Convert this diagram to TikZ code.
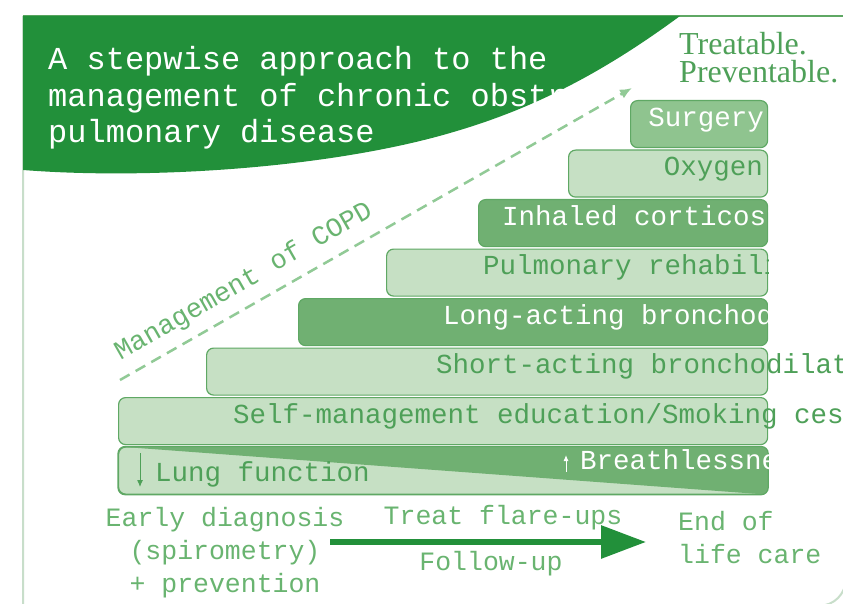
\documentclass[tikz,border=0pt]{standalone}
\usepackage{fontspec}
\setmonofont{Liberation Mono}
\newfontfamily\taglinefont{Liberation Serif}
\usepackage{tikz}
\usetikzlibrary{arrows.meta,positioning}

\definecolor{hdrgreen}{RGB}{34,144,58}
\definecolor{barlight}{RGB}{198,224,196}
\definecolor{barmid}{RGB}{143,196,143}
\definecolor{bardark}{RGB}{112,176,114}
\definecolor{barline}{RGB}{95,168,100}
\definecolor{txtgreen}{RGB}{78,160,88}
\definecolor{lowgreen}{RGB}{105,180,112}
\definecolor{dashgreen}{RGB}{145,202,150}
\definecolor{framegrey}{RGB}{200,222,202}

\tikzset{
  stepbar/.style={anchor=north west,rounded corners=7pt,draw=barline,line width=1.2pt,minimum height=47pt,inner sep=0pt},
  bartext/.style={font=\ttfamily\fontsize{27.5}{30}\selectfont,inner sep=0pt},
  titletext/.style={font=\ttfamily\fontsize{32}{36}\selectfont,text=white,inner sep=0pt,anchor=base west},
  tagline/.style={font=\taglinefont\fontsize{32}{36}\selectfont,text=txtgreen,inner sep=0pt,anchor=base west},
  lowtext/.style={font=\ttfamily\fontsize{26.5}{33}\selectfont,text=lowgreen,inner sep=0pt}
}

\begin{document}
\begin{tikzpicture}[x=1pt,y=-1pt]
	\useasboundingbox (0,0) rectangle (843,604);
	\clip (0,0) rectangle (843,604);
	\fill[white] (0,0) rectangle (843,604);

	% frame and header
	\draw[framegrey,line width=2pt] (23,16) -- (23,606) -- (818,606) .. controls (834,606) and (846,594) .. (846,578);
	\draw[barline,line width=1.5pt] (23,16) -- (843,16);
	\begin{scope}
		\clip (23,16) -- (680,16) .. controls (600,75) and (530,110) .. (450,133) .. controls (330,168) and (150,180) .. (23,170) -- cycle;
		\fill[hdrgreen] (0,0) rectangle (843,300);
		\node[titletext] (title1) at (48,70) {A stepwise approach to the};
		\node[titletext] (title2) at (48,107) {management of chronic obstructive};
		\node[titletext] (title3) at (48,143) {pulmonary disease};
	\end{scope}
	\node[tagline] (treat) at (679,55) {Treatable.};
	\node[tagline] (prevent) at (679,83) {Preventable.};

	% the steps
	\node[stepbar,fill=barmid,minimum width=137pt] (surgery) at (630,100) {};
	\node[stepbar,fill=barlight,minimum width=199pt] (oxygen) at (568,149.5) {};
	\node[stepbar,fill=bardark,minimum width=289pt] (inhaled) at (478,199) {};
	\node[stepbar,fill=barlight,minimum width=381pt] (pulmo) at (386,248.5) {};
	\node[stepbar,fill=bardark,minimum width=469pt] (longact) at (298,298) {};
	\node[stepbar,fill=barlight,minimum width=561pt] (shortact) at (206,347.5) {};
	\node[stepbar,fill=barlight,minimum width=649pt] (selfmgmt) at (118,397) {};
	\node[stepbar,fill=barlight,minimum width=649pt] (lung) at (118,446.5) {};
	\begin{scope}
		\clip[rounded corners=7pt] (lung.north west) rectangle (lung.south east);
		\fill[bardark] (lung.north west) -- (lung.north east) -- (lung.south east) -- cycle;
	\end{scope}
	\draw[barline,line width=1.2pt,rounded corners=7pt] (lung.north west) rectangle (lung.south east);

	\node[bartext,text=white,anchor=mid east] (surgerytxt) at ([xshift=-4pt]surgery.east) {Surgery};
	\node[bartext,text=txtgreen,anchor=mid east] (oxygentxt) at ([xshift=-5pt]oxygen.east) {Oxygen};
	\begin{scope}
		\clip[rounded corners=7pt] (inhaled.north west) rectangle (inhaled.south east);
		\node[bartext,text=white,anchor=mid west] (inhaledtxt) at ([xshift=24pt]inhaled.west) {Inhaled corticosteroids};
	\end{scope}
	\begin{scope}
		\clip[rounded corners=7pt] (pulmo.north west) rectangle (pulmo.south east);
		\node[bartext,text=txtgreen,anchor=mid west] (pulmotxt) at ([xshift=97pt]pulmo.west) {Pulmonary rehabilitation};
	\end{scope}
	\begin{scope}
		\clip[rounded corners=7pt] (longact.north west) rectangle (longact.south east);
		\node[bartext,text=white,anchor=mid west] (longacttxt) at ([xshift=145pt]longact.west) {Long-acting bronchodilators};
	\end{scope}
	\node[bartext,text=txtgreen,anchor=mid west] (shortacttxt) at ([xshift=230pt]shortact.west) {Short-acting bronchodilators};
	\node[bartext,text=txtgreen,anchor=mid west] (selfmgmttxt) at ([xshift=115pt]selfmgmt.west) {Self-management education/Smoking cessation};

	\node[bartext,text=txtgreen,anchor=mid west] (lungtxt) at ([xshift=37pt,yshift=-9pt]lung.west) {Lung function};
	\coordinate (lungtop) at (140,453);
	\coordinate (lungbot) at (140,487);
	\draw[txtgreen,line width=1pt,-{Latex[length=7pt,width=6pt]}] (lungtop) -- (lungbot);
	\begin{scope}
		\clip[rounded corners=7pt] (lung.north west) rectangle (lung.south east);
		\node[bartext,text=white,anchor=mid west] (breathtxt) at (580,467) {Breathlessness};
	\end{scope}
	\coordinate (breathbot) at (566,472);
	\coordinate (breathtop) at (566,455);
	\draw[white,line width=1pt,-{Latex[length=6pt,width=5pt]}] (breathbot) -- (breathtop);

	% management arrow
	\coordinate (mgmtstart) at (120,380);
	\coordinate (mgmtend) at (632,88);
	\draw[dashgreen,line width=2.5pt,dash pattern=on 11pt off 7pt,-{Latex[length=12pt,width=10pt]}] (mgmtstart) -- (mgmtend)
		node[pos=0.265,above=10pt,sloped,font=\ttfamily\fontsize{27}{30}\selectfont,text=lowgreen,inner sep=0pt] (mgmtlabel) {Management of COPD};

	% time line
	\node[lowtext,align=center] (early) at (225,553) {Early diagnosis\\(spirometry)\\+ prevention};
	\node[lowtext] (flare) at (503,518) {Treat flare-ups};
	\node[lowtext] (follow) at (491,564) {Follow-up};
	\node[lowtext,align=left,anchor=west] (endlife) at (678,538) {End of\\life care};
	\coordinate (timestart) at (330,542);
	\coordinate (timeend) at (646,542);
	\draw[hdrgreen,line width=6pt,-{Triangle[length=45pt,width=32pt]}] (timestart) -- (timeend);
\end{tikzpicture}
\end{document}
